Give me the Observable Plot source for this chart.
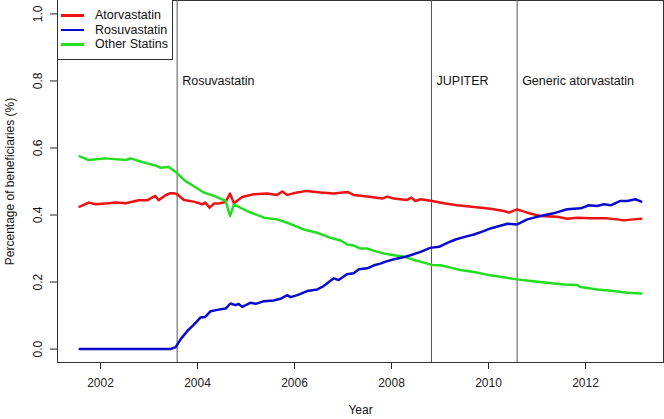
<!DOCTYPE html>
<html>
<head>
<meta charset="utf-8">
<script src="https://cdn.jsdelivr.net/npm/d3@7"></script>
<script src="https://cdn.jsdelivr.net/npm/@observablehq/plot@0.6"></script>
<style>
  html, body { margin: 0; padding: 0; background: #fff; }
  #wrap { position: relative; width: 664px; height: 419px; font-family: "Liberation Sans", Arial, sans-serif; }
  #legend { position: absolute; left: 57px; top: 0px; width: 116px; height: 60px; box-sizing: border-box;
            border: 1px solid #333; border-top: none; background: #fff; }
  .lrow { position: absolute; left: 0; height: 14px; font-size: 12.5px; color: #111; white-space: nowrap; }
  .lrow .sw { position: absolute; left: 3px; top: 6px; width: 23px; height: 2.5px; }
  .lrow .lt { position: absolute; left: 37px; top: 0; line-height: 14px; }
</style>
</head>
<body>
<div id="wrap"><div id="legend"></div></div>
<script>
// ---- data ----
const seriesNames = ["Atorvastatin", "Rosuvastatin", "Other Statins"];
const seriesColors = ["#ee1111", "#0a0acc", "#22dd22"];

const atorYear = [2001.57, 2001.76, 2001.90, 2002.10, 2002.31, 2002.52, 2002.79, 2002.96, 2003.13, 2003.20,
  2003.34, 2003.44, 2003.51, 2003.58, 2003.72, 2003.92, 2004.10, 2004.16, 2004.25, 2004.34,
  2004.47, 2004.58, 2004.67, 2004.75, 2004.92, 2005.16, 2005.44, 2005.64, 2005.75, 2005.85,
  2006.05, 2006.26, 2006.54, 2006.81, 2007.09, 2007.22, 2007.50, 2007.81, 2007.91, 2008.05,
  2008.32, 2008.41, 2008.49, 2008.60, 2008.84, 2009.08, 2009.35, 2009.70, 2010.04, 2010.32,
  2010.42, 2010.59, 2010.80, 2011.07, 2011.42, 2011.62, 2011.83, 2012.10, 2012.45, 2012.65,
  2012.79, 2012.99, 2013.15];
const atorShare = [0.425, 0.437, 0.432, 0.434, 0.437, 0.435, 0.444, 0.444, 0.457, 0.444,
  0.459, 0.465, 0.465, 0.462, 0.445, 0.440, 0.432, 0.437, 0.422, 0.434,
  0.435, 0.439, 0.464, 0.435, 0.454, 0.462, 0.464, 0.460, 0.470, 0.460,
  0.467, 0.472, 0.467, 0.464, 0.469, 0.460, 0.455, 0.449, 0.455, 0.449,
  0.445, 0.452, 0.442, 0.447, 0.442, 0.435, 0.429, 0.424, 0.419, 0.412,
  0.407, 0.417, 0.407, 0.397, 0.395, 0.389, 0.392, 0.390, 0.390, 0.387,
  0.384, 0.387, 0.389];

const rosuYear = [2001.57, 2003.44, 2003.55, 2003.65, 2003.79, 2003.92, 2004.06, 2004.16, 2004.27, 2004.41,
  2004.58, 2004.68, 2004.78, 2004.85, 2004.92, 2005.09, 2005.20, 2005.37, 2005.57, 2005.71,
  2005.85, 2005.92, 2006.06, 2006.26, 2006.47, 2006.60, 2006.81, 2006.91, 2007.08, 2007.22,
  2007.33, 2007.50, 2007.64, 2007.77, 2007.88, 2008.05, 2008.22, 2008.39, 2008.60, 2008.80,
  2008.98, 2009.15, 2009.32, 2009.49, 2009.70, 2009.90, 2010.04, 2010.39, 2010.59, 2010.80,
  2011.07, 2011.34, 2011.62, 2011.90, 2012.07, 2012.24, 2012.38, 2012.52, 2012.72, 2012.86,
  2013.03, 2013.15];
const rosuShare = [0.000, 0.000, 0.006, 0.029, 0.054, 0.072, 0.094, 0.096, 0.113, 0.117,
  0.121, 0.136, 0.131, 0.135, 0.126, 0.138, 0.135, 0.143, 0.145, 0.150,
  0.161, 0.155, 0.161, 0.173, 0.178, 0.188, 0.211, 0.206, 0.223, 0.226,
  0.238, 0.241, 0.250, 0.255, 0.261, 0.268, 0.273, 0.280, 0.290, 0.302,
  0.305, 0.317, 0.327, 0.334, 0.342, 0.352, 0.360, 0.374, 0.372, 0.387,
  0.397, 0.405, 0.417, 0.420, 0.429, 0.427, 0.432, 0.429, 0.442, 0.442,
  0.447, 0.440];

const otherYear = [2001.57, 2001.76, 2002.10, 2002.52, 2002.62, 2002.79, 2002.96, 2003.13, 2003.24, 2003.41,
  2003.57, 2003.75, 2003.86, 2004.13, 2004.34, 2004.58, 2004.67, 2004.75, 2005.02, 2005.37,
  2005.64, 2005.85, 2006.19, 2006.47, 2006.74, 2006.95, 2007.09, 2007.22, 2007.36, 2007.50,
  2007.64, 2007.84, 2008.05, 2008.25, 2008.46, 2008.67, 2008.84, 2009.01, 2009.22, 2009.42,
  2009.70, 2010.04, 2010.18, 2010.58, 2010.87, 2011.21, 2011.55, 2011.83, 2011.90, 2012.24,
  2012.58, 2012.86, 2013.15];
const otherShare = [0.575, 0.564, 0.569, 0.564, 0.569, 0.561, 0.554, 0.548, 0.541, 0.543,
  0.526, 0.501, 0.492, 0.467, 0.457, 0.442, 0.397, 0.432, 0.412, 0.392,
  0.387, 0.377, 0.357, 0.347, 0.332, 0.324, 0.312, 0.309, 0.300, 0.300,
  0.293, 0.285, 0.280, 0.276, 0.266, 0.258, 0.251, 0.250, 0.243, 0.236,
  0.230, 0.220, 0.217, 0.208, 0.203, 0.198, 0.193, 0.191, 0.185, 0.178,
  0.173, 0.168, 0.166];

const eventYears = [2003.58, 2008.825, 2010.59];
const eventLabels = ["Rosuvastatin", "JUPITER", "Generic atorvastatin"];

const xTicks = [2002, 2004, 2006, 2008, 2010, 2012];
const yTicks = [0, 0.2, 0.4, 0.6, 0.8, 1.0];
const xTitle = "Year";
const yTitle = "Percentage of beneficiaries (%)";

// ---- build tables ----
const toRows = (years, vals) => years.map((y, i) => ({year: y, share: vals[i]}));
const tables = [toRows(atorYear, atorShare), toRows(rosuYear, rosuShare), toRows(otherYear, otherShare)];
const drawOrder = [0, 2, 1];

const font = '"Liberation Sans", Arial, sans-serif';
const chart = Plot.plot({
  width: 664,
  height: 419,
  marginLeft: 57,
  marginRight: 1,
  marginTop: 0,
  marginBottom: 57,
  style: {fontFamily: font, fontSize: "12px", color: "#222", background: "#fff"},
  x: {domain: [2001.113, 2013.608], ticks: xTicks, tickFormat: d => String(d), tickSize: 7, tickPadding: 9, label: null},
  y: {domain: [-0.04, 1.04], ticks: yTicks, tickFormat: () => "", tickSize: 7, label: null},
  marks: [
    Plot.frame({stroke: "#333"}),
    Plot.ruleX(eventYears, {x: d => d, stroke: "#555", strokeWidth: 1}),
    Plot.text(eventYears, {x: d => d, y: () => 0.8, text: (d, i) => eventLabels[i], textAnchor: "start", dx: 5, fill: "#111", fontSize: 12.5}),
    ...drawOrder.map(k => Plot.line(tables[k], {x: "year", y: "share", stroke: seriesColors[k], strokeWidth: 2.5, strokeLinejoin: "round"})),
    Plot.text(yTicks, {y: d => d, frameAnchor: "left", textAnchor: "middle", dx: -19, rotate: -90, text: d => d.toFixed(1), fill: "#111", fontSize: 12}),
    Plot.text([xTitle], {frameAnchor: "bottom", textAnchor: "middle", dy: 51, text: d => d, fill: "#111", fontSize: 12}),
    Plot.text([yTitle], {frameAnchor: "left", textAnchor: "middle", dx: -47, rotate: -90, text: d => d, fill: "#111", fontSize: 12})
  ]
});
const wrap = document.getElementById("wrap");
wrap.insertBefore(chart, wrap.firstChild);

// legend overlay
const legend = document.getElementById("legend");
seriesNames.forEach((name, i) => {
  const row = document.createElement("div");
  row.className = "lrow";
  row.style.top = (8 + i * 14.5) + "px";
  row.style.width = "114px";
  const sw = document.createElement("div");
  sw.className = "sw";
  sw.style.background = seriesColors[i];
  const lt = document.createElement("div");
  lt.className = "lt";
  lt.textContent = name;
  row.appendChild(sw);
  row.appendChild(lt);
  legend.appendChild(row);
});
</script>
</body>
</html>
